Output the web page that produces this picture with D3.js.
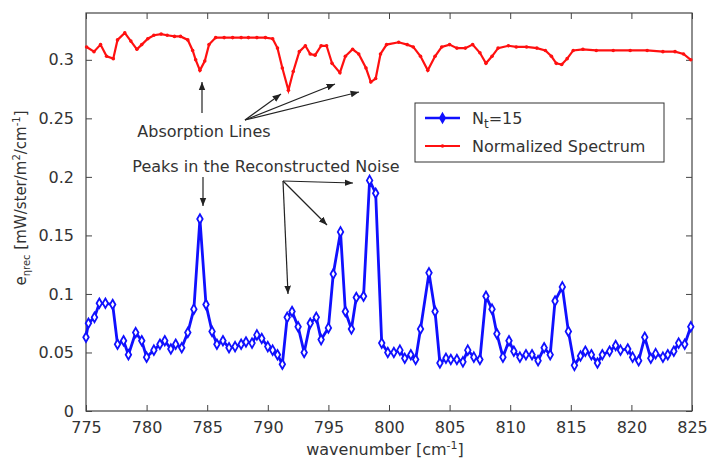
<!DOCTYPE html>
<html>
<head>
<meta charset="utf-8">
<script src="https://cdn.jsdelivr.net/npm/d3@7"></script>
<style>
  body { margin: 0; background: #fff; }
  text { font-family: "DejaVu Sans", sans-serif; fill: #333; }
</style>
</head>
<body>
<div id="chart"></div>
<script>
// reconstructed noise, N_t = 15
var noiseX = [775.0, 775.2, 775.7, 776.1, 776.6, 777.2, 777.6, 778.1, 778.5, 779.1, 779.6, 780.0, 780.6, 781.1, 781.5, 782.0, 782.4, 782.9, 783.4, 783.9, 784.4, 784.9, 785.4, 785.8, 786.3, 786.8, 787.3, 787.8, 788.2, 788.7, 789.1, 789.5, 790.0, 790.4, 790.8, 791.2, 791.6, 792.0, 792.5, 793.0, 793.5, 794.0, 794.4, 795.0, 795.4, 796.0, 796.4, 796.9, 797.3, 797.9, 798.4, 798.9, 799.4, 799.9, 800.4, 800.9, 801.3, 801.8, 802.2, 802.6, 803.3, 803.8, 804.2, 804.7, 805.1, 805.6, 806.1, 806.5, 807.0, 807.5, 808.0, 808.5, 808.9, 809.4, 809.9, 810.3, 810.8, 811.3, 811.8, 812.3, 812.8, 813.3, 813.7, 814.3, 814.8, 815.3, 815.8, 816.2, 816.7, 817.2, 817.6, 818.2, 818.7, 819.1, 819.7, 820.1, 820.6, 821.1, 821.6, 822.0, 822.6, 823.0, 823.5, 823.9, 824.4, 824.9];
var noiseY = [0.063, 0.075, 0.080, 0.092, 0.092, 0.091, 0.057, 0.060, 0.048, 0.067, 0.060, 0.046, 0.052, 0.057, 0.060, 0.053, 0.057, 0.054, 0.067, 0.087, 0.164, 0.091, 0.068, 0.057, 0.060, 0.054, 0.055, 0.057, 0.059, 0.058, 0.065, 0.062, 0.055, 0.052, 0.048, 0.040, 0.080, 0.085, 0.072, 0.050, 0.075, 0.080, 0.061, 0.071, 0.117, 0.153, 0.085, 0.070, 0.097, 0.098, 0.197, 0.186, 0.058, 0.050, 0.050, 0.052, 0.045, 0.048, 0.044, 0.070, 0.118, 0.085, 0.041, 0.045, 0.044, 0.044, 0.042, 0.052, 0.046, 0.044, 0.098, 0.087, 0.066, 0.046, 0.060, 0.051, 0.046, 0.048, 0.048, 0.043, 0.054, 0.048, 0.094, 0.106, 0.068, 0.039, 0.047, 0.051, 0.048, 0.041, 0.048, 0.051, 0.056, 0.052, 0.053, 0.046, 0.043, 0.063, 0.045, 0.049, 0.046, 0.048, 0.051, 0.058, 0.057, 0.072];

// normalized spectrum
var specX = [775.05, 775.66, 776.2, 776.7, 777.25, 777.6, 778.2, 778.7, 779.2, 779.6, 780.1, 780.6, 781.2, 781.7, 782.3, 782.8, 783.4, 783.8, 784.05, 784.4, 784.8, 785.15, 785.7, 786.4, 787.1, 787.8, 788.4, 789.1, 789.8, 790.4, 790.8, 791.2, 791.7, 792.1, 792.6, 793.1, 793.5, 793.9, 794.4, 794.85, 795.3, 795.95, 796.4, 797.0, 797.5, 798.1, 798.5, 798.9, 799.3, 799.8, 800.8, 801.5, 802.0, 802.6, 803.2, 803.8, 804.35, 805.0, 805.6, 806.3, 806.9, 807.5, 808.0, 808.5, 809.0, 809.85, 810.5, 811.35, 812.2, 812.9, 813.4, 813.8, 814.25, 814.7, 815.2, 816.0, 817.1, 818.5, 819.9, 821.3, 822.6, 823.6, 824.3, 824.9];
var specY = [0.311, 0.307, 0.313, 0.303, 0.301, 0.317, 0.323, 0.316, 0.309, 0.313, 0.318, 0.321, 0.322, 0.321, 0.320, 0.320, 0.317, 0.308, 0.300, 0.291, 0.299, 0.313, 0.319, 0.319, 0.319, 0.319, 0.319, 0.319, 0.319, 0.318, 0.310, 0.293, 0.274, 0.290, 0.307, 0.312, 0.305, 0.304, 0.312, 0.312, 0.297, 0.289, 0.303, 0.309, 0.305, 0.293, 0.281, 0.284, 0.305, 0.313, 0.315, 0.313, 0.311, 0.303, 0.291, 0.303, 0.311, 0.313, 0.310, 0.310, 0.313, 0.306, 0.297, 0.303, 0.310, 0.312, 0.311, 0.311, 0.310, 0.308, 0.303, 0.297, 0.296, 0.301, 0.308, 0.309, 0.308, 0.308, 0.308, 0.308, 0.307, 0.307, 0.305, 0.300];

var xTicks = [775, 780, 785, 790, 795, 800, 805, 810, 815, 820, 825];
var yTicks = [0, 0.05, 0.1, 0.15, 0.2, 0.25, 0.3];

var W = 707, H = 461;
var margin = { top: 13, right: 15, bottom: 50, left: 86 };

var svg = d3.select("#chart").append("svg")
    .attr("width", W).attr("height", H);

var x = d3.scaleLinear().domain([775, 825]).range([margin.left, W - margin.right]);
var y = d3.scaleLinear().domain([0, 0.34]).range([H - margin.bottom, margin.top]);

// ticks on all 4 sides, pointing in (matlab style)
var axisColor = "#444";
function styleAxis(g) {
    g.select(".domain").remove();
    g.selectAll(".tick line").attr("stroke", axisColor);
    g.selectAll(".tick text").style("font-size", "16px").attr("fill", "#333");
}
svg.append("g")
    .attr("transform", "translate(0," + y.range()[0] + ")")
    .call(d3.axisBottom(x).tickValues(xTicks).tickSizeInner(-6).tickSizeOuter(0).tickPadding(11).tickFormat(d3.format("d")))
    .call(styleAxis);
svg.append("g")
    .attr("transform", "translate(0," + y.range()[1] + ")")
    .call(d3.axisTop(x).tickValues(xTicks).tickSizeInner(-6).tickSizeOuter(0).tickFormat(""))
    .call(styleAxis);
svg.append("g")
    .attr("transform", "translate(" + x.range()[0] + ",0)")
    .call(d3.axisLeft(y).tickValues(yTicks).tickSizeInner(-6).tickSizeOuter(0).tickPadding(12).tickFormat(function (d) { return d3.format("")(+d.toFixed(2)); }))
    .call(styleAxis);
svg.append("g")
    .attr("transform", "translate(" + x.range()[1] + ",0)")
    .call(d3.axisRight(y).tickValues(yTicks).tickSizeInner(-6).tickSizeOuter(0).tickFormat(""))
    .call(styleAxis);

svg.append("rect")
    .attr("x", x.range()[0]).attr("y", y.range()[1])
    .attr("width", x.range()[1] - x.range()[0])
    .attr("height", y.range()[0] - y.range()[1])
    .attr("fill", "none").attr("stroke", axisColor).attr("stroke-width", 1.2);

// series
var noise = noiseX.map(function (d, i) { return [d, noiseY[i]]; });
var spec = specX.map(function (d, i) { return [d, specY[i]]; });

var line = d3.line()
    .x(function (d) { return x(d[0]); })
    .y(function (d) { return y(d[1]); });

var blue = "#1010ff", red = "#ff1010";

svg.append("path").datum(spec)
    .attr("d", line).attr("fill", "none")
    .attr("stroke", red).attr("stroke-width", 2.2);
svg.selectAll(".specdot").data(spec).enter().append("circle")
    .attr("cx", function (d) { return x(d[0]); })
    .attr("cy", function (d) { return y(d[1]); })
    .attr("r", 1.8).attr("fill", red);

svg.append("path").datum(noise)
    .attr("d", line).attr("fill", "none")
    .attr("stroke", blue).attr("stroke-width", 2.8);
var diamond = d3.symbol().type(d3.symbolDiamond).size(26);
svg.selectAll(".noisedot").data(noise).enter().append("path")
    .attr("d", diamond)
    .attr("transform", function (d) { return "translate(" + x(d[0]) + "," + y(d[1]) + ")"; })
    .attr("fill", "#fff").attr("stroke", blue).attr("stroke-width", 1.8);

// legend
var lg = svg.append("g");
lg.append("rect").attr("x", 415).attr("y", 103).attr("width", 249).attr("height", 59)
    .attr("fill", "#fff").attr("stroke", "#333").attr("stroke-width", 1);
lg.append("line").attr("x1", 425).attr("x2", 460).attr("y1", 118).attr("y2", 118)
    .attr("stroke", blue).attr("stroke-width", 2.5);
lg.append("path").attr("d", diamond).attr("transform", "translate(442.5,118)")
    .attr("fill", blue).attr("stroke", blue).attr("stroke-width", 1.5);
var t1 = lg.append("text").attr("x", 472).attr("y", 124).style("font-size", "16px");
t1.append("tspan").text("N");
t1.append("tspan").attr("dy", 4).style("font-size", "12px").text("t");
t1.append("tspan").attr("dy", -4).text("=15");
lg.append("line").attr("x1", 425).attr("x2", 460).attr("y1", 146).attr("y2", 146)
    .attr("stroke", red).attr("stroke-width", 2);
lg.append("circle").attr("cx", 442.5).attr("cy", 146).attr("r", 1.8).attr("fill", red);
lg.append("text").attr("x", 472).attr("y", 152).style("font-size", "16px").text("Normalized Spectrum");

// annotations
var defs = svg.append("defs");
defs.append("marker").attr("id", "arr").attr("viewBox", "0 0 10 10")
    .attr("refX", 10).attr("refY", 5).attr("markerWidth", 7).attr("markerHeight", 7)
    .attr("orient", "auto-start-reverse")
    .append("path").attr("d", "M0,1 L10,5 L0,9 z").attr("fill", "#222");

function arrow(x1, y1, x2, y2) {
    svg.append("line").attr("x1", x1).attr("y1", y1).attr("x2", x2).attr("y2", y2)
        .attr("stroke", "#222").attr("stroke-width", 1.2).attr("marker-end", "url(#arr)");
}
svg.append("text").attr("x", 204).attr("y", 137).attr("text-anchor", "middle")
    .style("font-size", "16px").text("Absorption Lines");
arrow(202, 113, 202, 82);
arrow(245, 120, 281, 94);
arrow(245, 120, 335, 84);
arrow(245, 120, 359, 92);

svg.append("text").attr("x", 266).attr("y", 172).attr("text-anchor", "middle")
    .style("font-size", "16px").text("Peaks in the Reconstructed Noise");
arrow(203, 177, 203, 206);
arrow(283, 181, 353, 183);
arrow(283, 181, 327, 225);
arrow(283, 181, 288, 294);

// axis labels
var xl = svg.append("text").attr("x", 385).attr("y", 455).attr("text-anchor", "middle")
    .style("font-size", "16px");
xl.append("tspan").text("wavenumber [cm");
xl.append("tspan").attr("dy", -6).style("font-size", "11px").text("-1");
xl.append("tspan").attr("dy", 6).text("]");

var yl = svg.append("text").attr("transform", "translate(26,198) rotate(-90)")
    .attr("text-anchor", "middle").style("font-size", "15px");
yl.append("tspan").text("e");
yl.append("tspan").attr("dy", 4).style("font-size", "10px").text("ηrec");
yl.append("tspan").attr("dy", -4).text(" [mW/ster/m");
yl.append("tspan").attr("dy", -6).style("font-size", "10px").text("2");
yl.append("tspan").attr("dy", 6).text("/cm");
yl.append("tspan").attr("dy", -6).style("font-size", "10px").text("-1");
yl.append("tspan").attr("dy", 6).text("]");
</script>
</body>
</html>
